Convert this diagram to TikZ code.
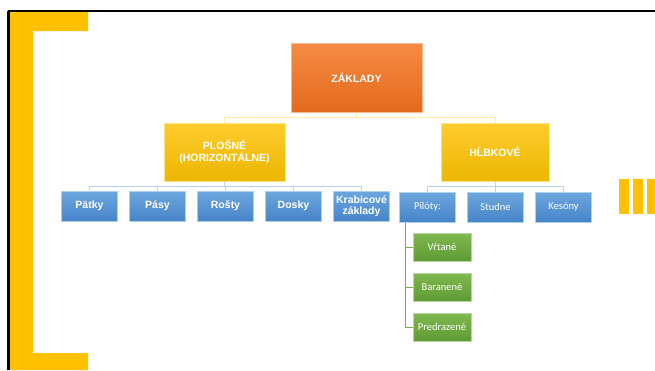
\documentclass[tikz,border=0pt]{standalone}
\usepackage{fontspec}
\newfontfamily\arialb{Liberation Sans}
\newfontfamily\calib{Carlito}
\usetikzlibrary{positioning}
\definecolor{zlta}{HTML}{FFC000}
\definecolor{orh}{HTML}{F68A44}
\definecolor{ord}{HTML}{E36A1C}
\definecolor{ylh}{HTML}{FFCB2E}
\definecolor{yld}{HTML}{EBB700}
\definecolor{blh}{HTML}{6CA6DE}
\definecolor{bld}{HTML}{4785C9}
\definecolor{grh}{HTML}{80B84E}
\definecolor{grd}{HTML}{5E9A33}
\tikzset{
  zk/.style={rectangle, minimum width=131pt, minimum height=69pt, text centered, draw=orh!60!white, line width=1pt, top color=orh, bottom color=ord, text=white, font=\arialb\bfseries\fontsize{10.5}{12}\selectfont},
  pl/.style={rectangle, minimum height=58pt, text centered, align=center, draw=ylh!60!white, line width=1pt, top color=ylh, bottom color=yld, text=white, font=\arialb\bfseries\fontsize{10.5}{12.5}\selectfont},
  bl/.style={rectangle, minimum width=56pt, minimum height=30pt, inner sep=1pt, text centered, align=center, draw=blh!55!white, line width=1pt, top color=blh, bottom color=bld, text=white, font=\arialb\bfseries\fontsize{10.5}{11}\selectfont},
  bn/.style={bl, font=\calib\fontsize{10.5}{12}\selectfont},
  gr/.style={rectangle, minimum width=58pt, minimum height=28pt, inner sep=1pt, text centered, draw=grh!55!white, line width=1pt, top color=grh, bottom color=grd, text=white, font=\calib\fontsize{10.5}{12}\selectfont},
  ly/.style={draw=ylh!45!white, line width=1pt},
  lb/.style={draw=blh!50!white, line width=1pt},
  lg/.style={draw=grd!85!white, line width=1pt},
  node distance=11pt
}
\begin{document}
\begin{tikzpicture}[x=1pt,y=-1pt]
	\useasboundingbox (0,0) rectangle (655,370);
	% ramecek
	\fill[white] (0,0) rectangle (655,370);
	\draw[line width=2.5pt] (8.5,11) -- (8.5,370);
	\draw[line width=1.8pt] (8,11) -- (655,11);
	\fill[zlta] (10,12) -- (88,12) -- (88,31) -- (33,31) -- (33,353) -- (88,353) -- (88,370) -- (10,370) -- cycle;
	\fill[zlta] (619,179) rectangle (629,214);
	\fill[zlta] (633,179) rectangle (643,214);
	\fill[zlta] (647,179) rectangle (655,214);
	%
	\node[zk] (zak) at (356.5,77.5) {ZÁKLADY};
	\node[pl, minimum width=121pt] (plo) at (224.5,152) {PLOŠNÉ\\(HORIZONTÁLNE)};
	\node[pl, minimum width=108pt] (hlb) at (495,152) {HĹBKOVÉ};
	%
	\node[bl] (pat) at (89.5,206) {Pätky};
	\node[bl, right=of pat] (pas) {Pásy};
	\node[bl, right=of pas] (ros) {Rošty};
	\node[bl, right=of ros] (dos) {Dosky};
	\node[bl, right=of dos] (kra) {Krabicové\\základy};
	%
	\node[bn] (pil) at (427.5,207) {Pilóty:};
	\node[bn, right=of pil] (stu) {Studne};
	\node[bn, right=of stu] (kes) {Kesóny};
	%
	\node[gr] (vrt) at (442,247) {Vŕtané};
	\node[gr, below=of vrt] (bar) {Baranené};
	\node[gr, below=of bar] (pre) {Predrazené};
	%
	\draw[ly] (zak.south) -- ++(0,5) -| (plo.north);
	\draw[ly] (zak.south) -- ++(0,5) -| (hlb.north);
	\foreach \n in {pat,pas,ros,dos,kra}
	  \draw[lb] (plo.south) -- ++(0,5) -| (\n.north);
	\foreach \n in {pil,stu,kes}
	  \draw[lb] (hlb.south) -- ++(0,5) -| (\n.north);
	\draw[lg] (pil.south west) ++(6,0) coordinate (pv);
	\foreach \n in {vrt,bar,pre}
	  \draw[lg] (pv) |- (\n.west);
\end{tikzpicture}
\end{document}
